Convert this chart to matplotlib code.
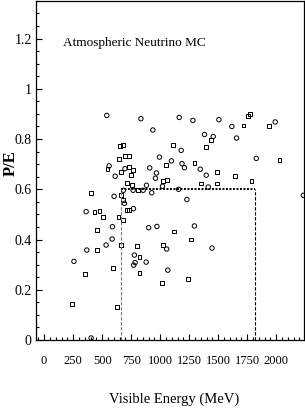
import matplotlib
matplotlib.use("Agg")
import matplotlib.pyplot as plt
from matplotlib.ticker import MultipleLocator

plt.rcParams['font.family'] = ['Liberation Serif', 'DejaVu Serif']

# open circles: visible energy (MeV), p/E
circ_e = [540, 834, 937, 1164, 1282, 1382, 1457, 1506, 1618, 1658, 1991,
          1181, 994, 1097, 1188, 1209, 1345, 1397, 1828, 560, 612, 696,
          910, 968, 959, 882, 684, 767, 853, 927, 1020, 1159, 1230, 1414,
          2233, 603, 692, 362, 770, 588, 901, 972, 1295, 586, 534, 368,
          1056, 1447, 257, 778, 772, 784, 879, 1066, 405]
circ_pe = [0.894, 0.881, 0.836, 0.886, 0.874, 0.818, 0.810, 0.877, 0.850,
           0.804, 0.868, 0.755, 0.728, 0.713, 0.702, 0.686, 0.680, 0.656,
           0.723, 0.693, 0.652, 0.682, 0.685, 0.665, 0.644, 0.616, 0.596,
           0.596, 0.596, 0.586, 0.612, 0.600, 0.559, 0.609, 0.576, 0.572,
           0.544, 0.511, 0.523, 0.451, 0.447, 0.452, 0.454, 0.402, 0.378,
           0.358, 0.362, 0.366, 0.313, 0.338, 0.298, 0.308, 0.310, 0.278,
           0.008]

# open squares
sq_e = [1440, 1397, 1718, 1753, 1776, 1940, 655, 681, 1108, 649, 698, 733,
        1052, 1296, 1491, 1647, 2028, 546, 662, 735, 765, 746, 1022, 1060,
        713, 761, 808, 1351, 1491, 1787, 405, 661, 678, 434, 477, 504, 641,
        678, 713, 735, 454, 1116, 459, 662, 797, 1028, 1263, 822, 822, 597,
        349, 1015, 1239, 241, 627]
sq_pe = [0.795, 0.767, 0.854, 0.891, 0.901, 0.853, 0.771, 0.775, 0.778,
         0.722, 0.731, 0.731, 0.698, 0.706, 0.667, 0.654, 0.715, 0.682,
         0.669, 0.689, 0.678, 0.656, 0.634, 0.636, 0.625, 0.616, 0.596,
         0.623, 0.623, 0.633, 0.584, 0.576, 0.556, 0.509, 0.513, 0.491,
         0.490, 0.477, 0.519, 0.516, 0.439, 0.432, 0.360, 0.380, 0.373,
         0.379, 0.400, 0.329, 0.266, 0.288, 0.263, 0.226, 0.241, 0.142,
         0.131]

cut_lo, cut_hi, cut_pe = 660, 1820, 0.6

fig = plt.figure(figsize=(3.05, 4.2), dpi=100)
ax = fig.add_axes([0.118, 0.1905, 0.879, 0.808])

ax.scatter(circ_e, circ_pe, marker='o', s=10, facecolors='none',
           edgecolors='black', linewidths=0.7)
ax.scatter(sq_e, sq_pe, marker='s', s=8, facecolors='none',
           edgecolors='black', linewidths=0.7)

ax.plot([cut_lo, cut_hi], [cut_pe, cut_pe], color='black', lw=1.4,
        linestyle=(0, (1, 0.8)))
ax.plot([cut_lo, cut_lo], [0, cut_pe], color='#777777', lw=0.8,
        linestyle=(0, (3, 1.5)))
ax.plot([cut_hi, cut_hi], [0, cut_pe], color='black', lw=0.8,
        linestyle=(0, (3, 1.5)))

ax.text(164, 1.184, 'Atmospheric Neutrino MC', fontsize=9.5, ha='left',
        va='center')

ax.set_xlim(-70, 2240)
ax.set_ylim(0, 1.351)
ax.xaxis.set_minor_locator(MultipleLocator(50))
ax.yaxis.set_minor_locator(MultipleLocator(0.05))
ax.set_xticks([0, 250, 500, 750, 1000, 1250, 1500, 1750, 2000])
ax.set_xticklabels(['0', '250', '500', '750', '1000', '1250', '1500',
                    '1750', '2000'])
ax.set_yticks([0, 0.2, 0.4, 0.6, 0.8, 1.0, 1.2])
ax.set_yticklabels(['0', '0.2', '0.4', '0.6', '0.8', '1', '1.2'])

ax.tick_params(axis='both', which='both', direction='in', top=False,
               right=False, width=0.8)
ax.tick_params(axis='x', which='major', length=4, pad=11, labelsize=9)
ax.tick_params(axis='x', which='minor', length=2)
ax.tick_params(axis='y', which='major', length=4, pad=3, labelsize=10)
ax.tick_params(axis='y', which='minor', length=2)
for sp in ax.spines.values():
    sp.set_linewidth(0.9)

ax.set_xlabel('Visible Energy (MeV)', fontsize=10.5)
ax.xaxis.set_label_coords(0.517, -0.155)
ax.set_ylabel('P/E', fontsize=12, fontweight='bold')
ax.yaxis.set_label_coords(-0.065, 0.52)

fig.savefig('out.png', dpi=100)
